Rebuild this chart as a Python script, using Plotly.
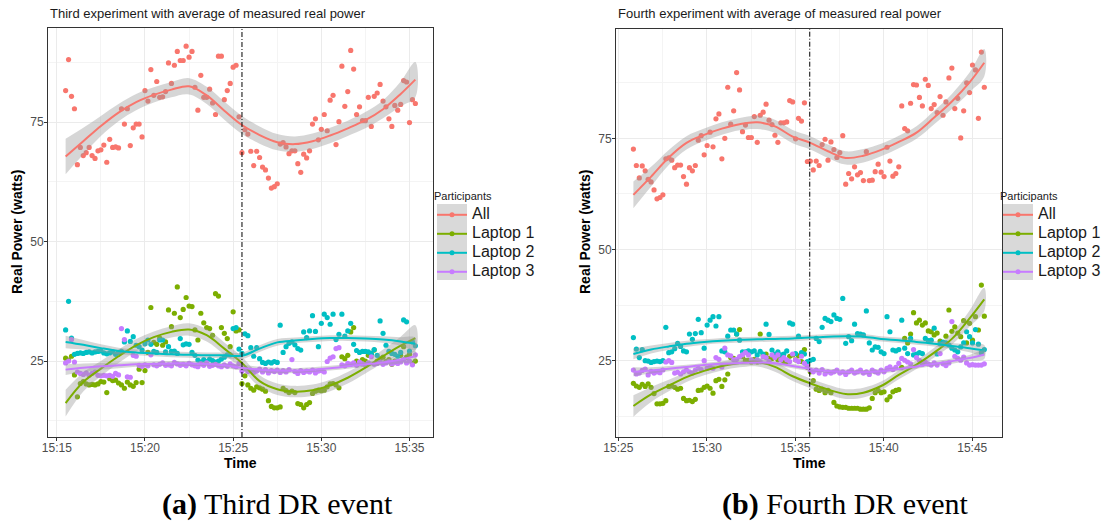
import pandas as pd
import plotly.graph_objects as go

W, H = 1109, 525

SERIES = ["All", "Laptop 1", "Laptop 2", "Laptop 3"]
COLORS = ["#F8766D", "#7CAE00", "#00BFC4", "#C77CFF"]

# sampling: one reading every 10 s
SAMPLE_SECONDS = 10
P1_BASE = "2000-01-01 15:15:00"
P2_BASE = "2000-01-01 15:25:00"
P1_FIRST = "2000-01-01 15:15:30"
P2_FIRST = "2000-01-01 15:25:51"
P1_EVENT = "2000-01-01 15:25:30"
P2_EVENT = "2000-01-01 15:35:49"

# ---------------- Panel (a): third DR event -----------------
P1_ALL = [81.6, 88.1, 80.4, 77.8, 66.1, 69.7,
          68.0, 68.6, 69.7, 68.0, 67.4, 69.0,
          69.2, 70.2, 66.6, 71.4, 69.7, 69.8,
          69.6, 77.8, 74.6, 77.8, 70.1, 73.8,
          74.6, 74.6, 71.9, 81.6, 79.4, 86.0,
          80.6, 83.5, 80.2, 80.3, 81.4, 87.4,
          83.1, 86.9, 89.8, 87.9, 87.9, 90.9,
          88.6, 89.8, 82.3, 77.5, 84.8, 80.2,
          80.2, 81.9, 79.0, 76.6, 88.8, 88.8,
          79.7, 81.6, 83.1, 86.5, 86.9, 76.1,
          68.6, 73.4, 72.5, 68.9, 65.9, 68.9,
          67.6, 65.6, 65.0, 63.3, 61.2, 61.5,
          62.1, 70.4, 70.7, 69.8, 68.4, 69.0,
          69.0, 66.3, 64.5, 68.3, 67.5, 69.0,
          74.6, 75.7, 71.3, 73.5, 76.6, 73.2,
          79.6, 80.6, 70.3, 75.1, 86.7, 78.3,
          81.4, 90.0, 86.1, 76.6, 78.2, 75.3,
          75.3, 80.2, 74.1, 80.4, 81.1, 82.9,
          79.4, 78.2, 75.7, 74.1, 78.5, 77.5,
          78.7, 83.7, 83.4, 74.9, 79.7, 78.9]
P1_L1 = [25.6, 25.2, 26.0, 22.1, 17.5, 20.3,
         20.7, 20.2, 20.0, 20.1, 20.0, 20.2,
         20.7, 20.6, 18.4, 21.3, 20.9, 21.0,
         20.4, 20.0, 19.3, 20.6, 20.0, 19.7,
         20.5, 23.3, 20.5, 23.0, 26.8, 36.2,
         28.9, 28.5, 29.8, 28.3, 29.0, 35.7,
         32.2, 35.0, 40.5, 34.1, 35.8, 38.3,
         36.5, 36.4, 31.5, 29.4, 35.0, 33.0,
         32.0, 31.8, 30.4, 39.1, 38.6, 32.0,
         30.8, 29.7, 28.0, 35.3, 31.3, 31.5,
         20.3, 21.9, 20.0, 19.3, 18.9, 19.6,
         19.4, 19.1, 18.7, 16.7, 15.5, 15.2,
         15.2, 15.4, 19.3, 18.8, 18.4, 18.7,
         18.4, 16.1, 15.9, 15.2, 15.9, 16.3,
         18.2, 18.7, 18.9, 18.8, 18.9, 19.6,
         20.2, 20.3, 20.0, 19.4, 25.9, 25.5,
         26.2, 31.1, 32.0, 25.0, 24.6, 25.3,
         25.0, 26.2, 26.4, 27.3, 25.0, 25.5,
         25.8, 24.9, 25.3, 24.3, 25.0, 24.7,
         26.2, 28.0, 25.8, 26.4, 24.5, 25.0]
P1_L2 = [31.5, 37.5, 29.8, 26.4, 26.6, 26.7,
         26.6, 26.8, 26.9, 26.7, 26.9, 27.0,
         27.1, 26.7, 26.5, 26.7, 26.9, 26.4,
         26.8, 27.0, 29.0, 31.3, 29.1, 30.1,
         28.3, 28.0, 27.3, 28.6, 29.4, 28.5,
         27.0, 26.8, 29.4, 29.4, 26.9, 28.0,
         27.0, 27.1, 26.6, 29.7, 28.4, 28.6,
         28.5, 26.8, 26.2, 25.2, 24.8, 25.3,
         24.9, 25.4, 25.1, 24.8, 25.0, 25.4,
         25.8, 26.3, 26.3, 31.8, 32.0, 27.5,
         26.6, 30.7, 30.3, 27.8, 26.0, 27.8,
         25.5, 24.7, 24.5, 24.8, 24.6, 24.9,
         24.7, 32.5, 26.8, 28.0, 28.7, 29.0,
         28.4, 27.6, 27.3, 31.1, 29.9, 31.3,
         34.5, 31.2, 28.0, 32.9, 34.8, 34.1,
         32.7, 34.8, 29.5, 30.6, 34.8, 30.2,
         31.3, 32.9, 28.5, 27.2, 26.8, 27.0,
         27.0, 26.9, 26.6, 27.4, 26.2, 33.4,
         30.8, 28.3, 27.0, 26.6, 26.4, 26.0,
         26.8, 33.6, 33.2, 27.1, 29.0, 28.2]
P1_L3 = [24.6, 25.0, 29.5, 24.8, 22.7, 22.4,
         22.2, 22.5, 22.0, 22.4, 22.7, 22.0,
         21.9, 22.0, 21.9, 22.0, 21.8, 22.4,
         22.1, 31.8, 29.5, 21.7, 21.6, 26.2,
         26.0, 24.1, 23.9, 24.2, 24.0, 26.3,
         24.2, 24.0, 24.3, 24.6, 24.1, 24.2,
         24.0, 24.7, 24.4, 24.1, 24.3, 24.0,
         24.5, 24.2, 24.0, 23.8, 24.4, 24.1,
         24.6, 23.9, 24.1, 24.3, 24.0, 23.8,
         24.2, 23.9, 24.4, 24.0, 23.8, 24.5,
         22.9, 23.4, 22.8, 23.1, 22.6, 22.9,
         23.3, 22.7, 23.2, 22.5, 23.0, 22.8,
         23.1, 22.6, 23.0, 22.7, 23.2, 25.3,
         22.8, 22.4, 23.0, 22.6, 22.9, 22.7,
         23.1, 22.5, 22.9, 23.0, 22.7, 24.9,
         25.6, 25.9, 27.6, 27.8, 24.2, 24.0,
         24.5, 24.3, 24.6, 24.1, 24.8, 24.4,
         24.2, 24.6, 25.9, 24.3, 24.5, 24.8,
         24.3, 24.6, 24.9, 24.4, 24.7, 24.5,
         24.8, 25.3, 24.6, 25.0, 24.2, 26.3]

# smoothed fits (minutes after 15:15) and confidence half-widths
P1_FIT_MIN = [0.5, 1.5, 2.5, 3.5, 4.5, 5.5, 6.5, 7.5, 8.5, 9.5, 10.5,
              11.5, 12.5, 13.5, 14.5, 15.5, 16.5, 17.5, 18.5, 19.5, 20.33]
P1_FIT_ALL = [67.8, 71.0, 74.2, 77.0, 79.2, 80.7, 81.8, 82.5, 80.6, 77.4, 74.4,
              72.3, 70.8, 70.4, 71.0, 72.2, 73.7, 75.4, 77.7, 80.9, 83.9]
P1_FIT_L1 = [16.2, 20.6, 23.4, 26.0, 28.3, 30.0, 31.1, 31.6, 30.4, 27.6, 24.6,
             20.8, 19.1, 18.6, 18.9, 19.9, 21.5, 23.6, 26.0, 28.2, 29.8]
P1_FIT_L2 = [29.0, 28.4, 27.7, 27.1, 26.8, 26.6, 26.4, 26.3, 26.2, 26.2, 26.1,
             27.6, 28.9, 29.3, 29.6, 29.8, 29.8, 29.7, 29.5, 29.1, 28.6]
P1_FIT_L3 = [23.2, 23.6, 23.9, 24.1, 24.3, 24.4, 24.5, 24.5, 24.4, 24.1, 23.6,
             23.2, 23.0, 23.0, 23.2, 23.5, 23.9, 24.3, 24.7, 25.3, 26.0]
P1_SE_ALL = [3.7, 2.8, 2.1, 1.8, 1.7, 1.6, 1.6, 1.7, 1.8, 1.9, 1.9,
             1.8, 1.7, 1.6, 1.6, 1.6, 1.6, 1.7, 1.9, 2.6, 3.7]
P1_SE_L1 = [2.8, 2.0, 1.6, 1.4, 1.3, 1.2, 1.2, 1.3, 1.3, 1.3, 1.3,
            1.2, 1.2, 1.2, 1.2, 1.2, 1.2, 1.2, 1.4, 1.9, 2.7]
P1_SE_L2 = [1.3, 1.0, 0.8, 0.7, 0.6, 0.6, 0.6, 0.6, 0.6, 0.6, 0.7,
            0.7, 0.7, 0.6, 0.6, 0.6, 0.6, 0.6, 0.7, 0.9, 1.3]
P1_SE_L3 = [1.1, 0.9, 0.7, 0.6, 0.5, 0.5, 0.5, 0.5, 0.5, 0.5, 0.6,
            0.6, 0.6, 0.5, 0.5, 0.5, 0.5, 0.5, 0.6, 0.8, 1.1]

# ---------------- Panel (b): fourth DR event -----------------
P2_ALL = [72.6, 68.9, 66.1, 68.8, 67.7, 65.8,
          65.2, 63.4, 61.4, 61.7, 62.3, 70.4,
          70.6, 70.1, 68.4, 69.0, 69.0, 66.4,
          64.7, 68.4, 67.7, 68.9, 74.6, 75.6,
          71.3, 73.4, 76.4, 73.1, 79.4, 80.5,
          70.4, 75.0, 86.5, 78.2, 81.2, 89.8,
          85.9, 76.5, 78.0, 75.2, 75.2, 79.9,
          74.1, 80.2, 80.9, 82.7, 79.1, 78.1,
          75.7, 74.1, 78.5, 78.5, 78.7, 83.5,
          83.2, 74.9, 79.5, 78.9, 83.0, 69.8,
          69.9, 67.9, 69.9, 68.9, 73.6, 74.8,
          70.1, 74.2, 72.5, 70.7, 71.8, 75.6,
          64.7, 67.1, 65.9, 68.6, 66.8, 67.3,
          65.5, 72.0, 65.5, 65.6, 67.5, 69.2,
          67.4, 66.4, 73.0, 69.9, 66.5, 67.1,
          68.6, 82.3, 77.2, 76.7, 82.9, 87.1,
          87.0, 84.2, 82.3, 88.3, 86.9, 81.7,
          82.6, 80.8, 84.4, 80.2, 83.2, 88.6,
          90.8, 81.7, 84.0, 75.1, 81.2, 87.5,
          85.3, 91.5, 90.4, 79.5, 94.4, 86.5]
P2_L1 = [19.9, 19.3, 19.0, 19.7, 19.2, 19.8,
         19.0, 17.6, 15.3, 15.3, 15.4, 16.0,
         19.2, 19.3, 19.0, 18.6, 18.8, 16.5,
         16.0, 16.1, 15.8, 16.3, 18.3, 18.4,
         19.0, 19.3, 18.8, 17.7, 20.5, 20.8,
         19.2, 20.7, 22.0, 25.7, 25.5, 31.0,
         32.0, 25.9, 25.1, 25.1, 24.7, 25.3,
         24.7, 31.0, 26.3, 26.5, 25.5, 25.5,
         26.3, 25.2, 25.8, 24.8, 24.8, 26.0,
         26.3, 25.2, 26.1, 24.8, 27.5, 23.5,
         22.5, 20.5, 18.6, 18.3, 18.6, 17.8,
         18.3, 17.8, 15.6, 14.8, 14.6, 14.5,
         14.5, 14.3, 14.3, 14.3, 14.3, 14.1,
         14.1, 14.1, 14.4, 16.5, 17.8, 18.3,
         17.8, 18.0, 16.2, 16.9, 18.0, 18.3,
         18.5, 23.5, 30.0, 29.0, 31.0, 35.8,
         33.5, 34.1, 33.0, 33.5, 31.7, 31.5,
         30.8, 31.2, 29.4, 29.0, 30.5, 36.4,
         31.6, 32.6, 31.2, 30.4, 34.0, 29.0,
         33.4, 29.6, 34.9, 31.9, 42.0, 35.0]
P2_L2 = [30.2, 27.6, 25.7, 27.5, 25.0, 24.9,
         24.6, 24.8, 24.9, 24.8, 25.0, 32.5,
         26.8, 27.0, 27.7, 28.9, 28.2, 27.2,
         27.0, 31.0, 29.8, 31.1, 34.3, 31.3,
         27.8, 33.0, 34.1, 34.9, 32.8, 34.9,
         27.2, 27.0, 30.5, 31.9, 31.9, 31.0,
         29.6, 27.0, 27.0, 27.2, 27.0, 27.2,
         26.3, 27.1, 26.5, 33.2, 30.9, 27.4,
         26.5, 27.0, 26.3, 26.5, 27.2, 33.5,
         33.2, 26.6, 30.5, 26.8, 26.5, 24.8,
         25.1, 25.3, 30.0, 29.3, 32.5, 34.5,
         34.1, 33.8, 35.3, 34.5, 34.3, 39.0,
         28.9, 30.4, 29.5, 33.2, 31.1, 31.0,
         30.8, 36.2, 29.0, 27.4, 28.1, 28.0,
         27.0, 26.6, 34.9, 31.5, 27.4, 27.2,
         27.5, 34.1, 27.8, 26.6, 30.0, 26.3,
         26.5, 26.8, 26.6, 30.0, 29.5, 29.6,
         32.3, 26.5, 28.8, 29.2, 29.0, 28.5,
         27.8, 27.4, 27.0, 28.1, 29.0, 31.5,
         30.4, 29.0, 32.0, 28.7, 26.8, 27.5]
P2_L3 = [22.9, 22.0, 22.2, 22.8, 23.1, 21.8,
         22.6, 22.2, 22.5, 22.3, 22.9, 24.7,
         25.0, 24.6, 22.2, 22.4, 22.0, 22.5,
         22.9, 22.5, 22.2, 22.9, 23.3, 23.0,
         25.0, 23.3, 23.6, 23.3, 25.7, 25.3,
         23.6, 27.8, 26.3, 26.1, 25.2, 25.3,
         25.9, 26.3, 26.8, 26.3, 25.2, 24.8,
         25.2, 24.8, 25.9, 25.7, 24.8, 26.3,
         25.7, 26.3, 25.2, 25.7, 25.2, 24.8,
         26.5, 25.2, 24.8, 26.0, 24.4, 23.7,
         22.9, 22.5, 22.9, 22.2, 23.0, 22.0,
         22.5, 22.2, 22.5, 22.9, 22.2, 22.5,
         21.9, 22.5, 22.9, 22.2, 22.5, 22.9,
         22.2, 22.5, 21.9, 22.9, 22.5, 22.2,
         22.9, 22.5, 23.3, 23.6, 23.0, 23.5,
         24.4, 25.5, 25.1, 24.7, 24.3, 27.5,
         25.7, 25.1, 24.2, 24.7, 24.3, 24.0,
         24.5, 24.0, 26.6, 24.3, 23.9, 24.5,
         33.8, 26.0, 25.5, 25.1, 25.8, 24.5,
         24.0, 24.1, 24.0, 24.0, 24.0, 24.3]

P2_FIT_MIN = [0.85, 1.85, 2.85, 3.85, 4.85, 5.85, 6.85, 7.85, 8.85, 9.85, 10.85,
              11.85, 12.85, 13.85, 14.85, 15.85, 16.85, 17.85, 18.85, 19.85, 20.68]
P2_FIT_ALL = [62.3, 66.4, 70.7, 74.0, 75.8, 77.2, 78.2, 78.6, 77.7, 75.4, 74.0,
              72.1, 70.6, 71.1, 72.4, 74.2, 76.3, 79.7, 83.3, 87.6, 92.0]
P2_FIT_L1 = [14.8, 17.4, 19.4, 21.3, 22.7, 23.8, 24.5, 24.7, 23.6, 21.5, 19.9,
             18.5, 17.5, 17.8, 19.3, 21.8, 24.1, 26.8, 29.9, 34.5, 38.8]
P2_FIT_L2 = [26.5, 27.5, 28.2, 28.8, 29.2, 29.5, 29.7, 29.8, 29.9, 30.0, 30.2,
             30.4, 30.5, 30.4, 29.9, 29.6, 29.2, 28.8, 28.3, 27.8, 27.3]
P2_FIT_L3 = [22.5, 22.8, 23.2, 23.6, 24.0, 24.3, 24.5, 24.6, 24.4, 23.8, 23.1,
             22.7, 22.5, 22.4, 22.6, 23.1, 23.7, 24.3, 24.9, 25.6, 26.4]
P2_SE_ALL = [3.0, 2.2, 1.7, 1.5, 1.4, 1.4, 1.4, 1.5, 1.5, 1.5, 1.5,
             1.5, 1.5, 1.5, 1.4, 1.4, 1.4, 1.5, 1.7, 2.2, 3.1]
P2_SE_L1 = [2.4, 1.7, 1.3, 1.1, 1.0, 1.0, 1.0, 1.0, 1.1, 1.1, 1.1,
            1.1, 1.1, 1.1, 1.0, 1.0, 1.0, 1.1, 1.3, 1.8, 2.6]
P2_SE_L2 = [1.2, 0.9, 0.8, 0.7, 0.6, 0.6, 0.6, 0.6, 0.6, 0.6, 0.6,
            0.6, 0.6, 0.6, 0.6, 0.6, 0.6, 0.6, 0.7, 0.9, 1.2]
P2_SE_L3 = [1.0, 0.7, 0.6, 0.5, 0.5, 0.5, 0.5, 0.5, 0.5, 0.5, 0.5,
            0.5, 0.5, 0.5, 0.5, 0.5, 0.5, 0.5, 0.6, 0.7, 1.0]

TITLES = ["Third experiment with average of measured real power",
          "Fourth experiment with average of measured real power"]
CAPTIONS = ["<b>(a)</b> Third DR event", "<b>(b)</b> Fourth DR event"]

SANS = "Liberation Sans, Arial, sans-serif"
SERIF = "Liberation Serif, Times New Roman, serif"
BAND = "rgba(153,153,153,0.4)"


def px(x):
    return x / W


def py(y):
    return 1 - y / H


def sample_times(first, n):
    return pd.date_range(first, periods=n, freq=f"{SAMPLE_SECONDS}s")


def fit_times(base, mins):
    return [pd.Timestamp(base) + pd.Timedelta(minutes=m) for m in mins]


panels = [
    dict(first=P1_FIRST, base=P1_BASE, pts=[P1_ALL, P1_L1, P1_L2, P1_L3],
         fit_min=P1_FIT_MIN, fit=[P1_FIT_ALL, P1_FIT_L1, P1_FIT_L2, P1_FIT_L3],
         se=[P1_SE_ALL, P1_SE_L1, P1_SE_L2, P1_SE_L3], xa="x", ya="y", legend="legend"),
    dict(first=P2_FIRST, base=P2_BASE, pts=[P2_ALL, P2_L1, P2_L2, P2_L3],
         fit_min=P2_FIT_MIN, fit=[P2_FIT_ALL, P2_FIT_L1, P2_FIT_L2, P2_FIT_L3],
         se=[P2_SE_ALL, P2_SE_L1, P2_SE_L2, P2_SE_L3], xa="x2", ya="y2", legend="legend2"),
]

fig = go.Figure()

for p in panels:
    # points
    for name, col, vals in zip(SERIES, COLORS, p["pts"]):
        fig.add_trace(go.Scatter(
            x=sample_times(p["first"], len(vals)), y=vals, mode="markers",
            marker=dict(color=col, size=5.2, line=dict(width=0)),
            xaxis=p["xa"], yaxis=p["ya"], showlegend=False, name=name))
    # smooth + confidence band
    ft = fit_times(p["base"], p["fit_min"])
    for name, col, f, se in zip(SERIES, COLORS, p["fit"], p["se"]):
        upper = [a + b for a, b in zip(f, se)]
        lower = [a - b for a, b in zip(f, se)]
        fig.add_trace(go.Scatter(
            x=ft + ft[::-1], y=upper + lower[::-1], fill="toself",
            fillcolor=BAND, line=dict(width=0, shape="spline", smoothing=1.0),
            mode="lines", hoverinfo="skip", showlegend=False,
            xaxis=p["xa"], yaxis=p["ya"]))
        fig.add_trace(go.Scatter(
            x=ft, y=f, mode="lines",
            line=dict(color=col, width=2, shape="spline", smoothing=1.0),
            xaxis=p["xa"], yaxis=p["ya"], showlegend=False, name=name))
    # legend keys
    for name, col in zip(SERIES, COLORS):
        fig.add_trace(go.Scatter(
            x=[None], y=[None], mode="lines+markers",
            name=f'<span style="font-size:16px">{name}</span>',
            line=dict(color=col, width=2), marker=dict(color=col, size=5),
            xaxis=p["xa"], yaxis=p["ya"], legend=p["legend"], showlegend=True))


def xaxis_cfg(domain, rng, tick0, anchor):
    return dict(domain=domain, type="date", range=rng, tick0=tick0, dtick=300000,
                anchor=anchor, automargin=False, ticklabelstandoff=-3,
                tickformat="%H:%M", showgrid=True, gridcolor="#ebebeb", gridwidth=1,
                minor=dict(dtick=150000, tick0=tick0, showgrid=True,
                           gridcolor="#f4f4f4", gridwidth=0.6),
                ticks="outside", ticklen=3, tickcolor="#333333", tickwidth=1,
                showline=True, mirror=True, linecolor="#333333", linewidth=1,
                zeroline=False, tickfont=dict(family=SANS, size=12, color="#4d4d4d"))


def yaxis_cfg(domain, rng, anchor):
    return dict(domain=domain, range=rng, tick0=0, dtick=25, anchor=anchor,
                automargin=False, ticklabelstandoff=-2,
                showgrid=True, gridcolor="#ebebeb", gridwidth=1,
                minor=dict(dtick=12.5, tick0=0, showgrid=True,
                           gridcolor="#f4f4f4", gridwidth=0.6),
                ticks="outside", ticklen=3, tickcolor="#333333", tickwidth=1,
                showline=True, mirror=True, linecolor="#333333", linewidth=1,
                zeroline=False, tickfont=dict(family=SANS, size=12, color="#4d4d4d"))


fig.update_layout(
    width=W, height=H, margin=dict(l=0, r=0, t=0, b=0, autoexpand=False),
    paper_bgcolor="white", plot_bgcolor="white",
    xaxis=xaxis_cfg([px(48), px(433)], ["2000-01-01 15:14:30", "2000-01-01 15:36:20"],
                    "2000-01-01 15:15:00", "y"),
    yaxis=yaxis_cfg([py(437), py(28)], [9.1, 94.7], "x"),
    xaxis2=xaxis_cfg([px(616), px(1002)], ["2000-01-01 15:24:52", "2000-01-01 15:46:41"],
                     "2000-01-01 15:25:00", "y2"),
    yaxis2=yaxis_cfg([py(436.7), py(29)], [7.9, 99.6], "x2"),
)

legend_common = dict(xanchor="left", yanchor="top", bgcolor="rgba(0,0,0,0)",
                     borderwidth=0, tracegroupgap=0, itemwidth=30,
                     font=dict(family=SANS, size=11.5, color="#1a1a1a"),
                     title=dict(text="Participants", font=dict(family=SANS, size=11, color="#1a1a1a")))
fig.update_layout(legend=dict(x=px(432), y=py(186), **legend_common),
                  legend2=dict(x=px(998), y=py(186), **legend_common))

shapes = []
for xa, ya, ev in [("x", "y", P1_EVENT), ("x2", "y2", P2_EVENT)]:
    shapes.append(dict(type="line", xref=xa, yref=f"{ya} domain",
                       x0=ev, x1=ev, y0=0, y1=1,
                       line=dict(color="black", width=1, dash="5px,2px,1px,2px"),
                       layer="above"))
for lx in [437, 1003]:
    shapes.append(dict(type="rect", xref="paper", yref="paper",
                       x0=px(lx), x1=px(lx + 30), y0=py(280), y1=py(204),
                       fillcolor="#d9d9d9", line=dict(width=0), layer="below"))
fig.update_layout(shapes=shapes)

ann = []
for tx, title in zip([48, 616], TITLES):
    ann.append(dict(text=title, x=px(tx), y=py(14), xref="paper", yref="paper",
                    xanchor="left", yanchor="middle", showarrow=False,
                    font=dict(family=SANS, size=13, color="#1a1a1a")))
for cx in [240.5, 809]:
    ann.append(dict(text="<b>Time</b>", x=px(cx), y=py(463), xref="paper", yref="paper",
                    xanchor="center", yanchor="middle", showarrow=False,
                    font=dict(family=SANS, size=14, color="black")))
for cx in [17, 585]:
    ann.append(dict(text="<b>Real Power (watts)</b>", x=px(cx), y=py(232), xref="paper",
                    yref="paper", xanchor="center", yanchor="middle", showarrow=False,
                    textangle=-90, font=dict(family=SANS, size=14, color="black")))
for cx, cap in zip([277, 845], CAPTIONS):
    ann.append(dict(text=cap, x=px(cx), y=py(504), xref="paper", yref="paper",
                    xanchor="center", yanchor="middle", showarrow=False,
                    font=dict(family=SERIF, size=30, color="black")))
fig.update_layout(annotations=ann)

fig.write_html(
    "out.html",
    config={"displayModeBar": False},
    post_script="document.body.style.margin='0';document.body.style.padding='0';"
                "document.documentElement.style.overflow='hidden';",
)
